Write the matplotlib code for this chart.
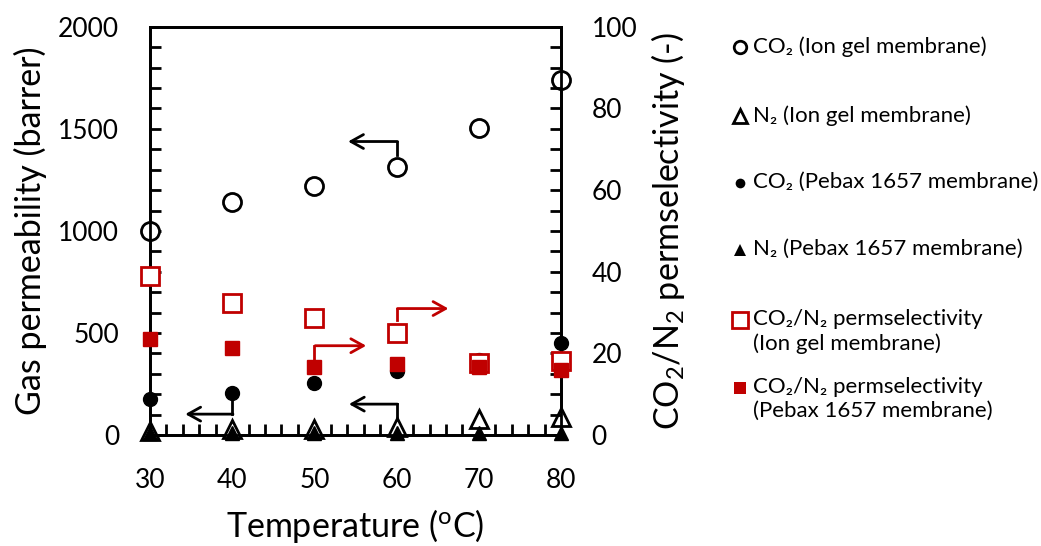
import matplotlib
matplotlib.use("Agg")
import matplotlib.pyplot as plt
from matplotlib.lines import Line2D

plt.rcParams['font.family'] = ['Lato', 'DejaVu Sans']
plt.rcParams['mathtext.fontset'] = 'custom'
plt.rcParams['mathtext.rm'] = 'Lato'
plt.rcParams['mathtext.it'] = 'Lato:italic'

# data
temp = [30, 40, 50, 60, 70, 80]
co2_ion = [1000, 1143, 1222, 1315, 1502, 1739]
n2_ion = [20, 30, 30, 40, 80, 90]
co2_pebax = [177, 207, 256, 315, 370, 453]
n2_pebax = [10, 10, 10, 10, 10, 10]
sel_ion = [38.9, 32.3, 28.8, 25.1, 17.7, 18.2]
sel_pebax = [23.6, 21.4, 16.7, 17.5, 16.7, 16.0]

red = '#C00000'

fig = plt.figure(figsize=(10.41, 5.46), dpi=100)
ax = fig.add_axes([0.144, 0.203, 0.395, 0.748])
ax2 = ax.twinx()

ax.plot(temp, co2_ion, 'o', ms=13, mfc='white', mec='black', mew=2, ls='none', clip_on=False, zorder=3)
ax.plot(temp, n2_ion, '^', ms=13, mfc='white', mec='black', mew=2, ls='none', clip_on=False, zorder=3)
ax.plot(temp, co2_pebax, 'o', ms=10, color='black', ls='none', clip_on=False, zorder=4)
ax.plot(temp, n2_pebax, '^', ms=10, color='black', ls='none', clip_on=False, zorder=4)
ax2.plot(temp, sel_ion, 's', ms=13, mfc='white', mec=red, mew=2, ls='none', clip_on=False, zorder=3)
ax2.plot(temp, sel_pebax, 's', ms=10, color=red, ls='none', clip_on=False, zorder=4)

ax.set_xlim(30, 80)
ax.set_ylim(0, 2000)
ax2.set_ylim(0, 100)
ax.set_xticks([30, 40, 50, 60, 70, 80])
ax.set_xticks(range(30, 81, 2), minor=True)
ax.set_yticks([0, 500, 1000, 1500, 2000])
ax.set_yticks(range(0, 2001, 100), minor=True)
ax2.set_yticks([0, 20, 40, 60, 80, 100])
ax2.set_yticks(range(0, 101, 5), minor=True)

for a in (ax, ax2):
    for s in a.spines.values():
        s.set_linewidth(2)
ax.tick_params(which='both', direction='in', width=2, length=8, labelsize=19)
ax.tick_params(axis='y', pad=22)
ax.tick_params(axis='x', pad=24)
ax2.tick_params(which='both', direction='in', width=2, length=8, labelsize=19, pad=22)

ax.set_xlabel('Temperature ($^{\\rm o}$C)', fontsize=24.5, labelpad=10)
ax.set_ylabel('Gas permeability (barrer)', fontsize=24.5, labelpad=8)
ax2.set_ylabel('CO$_2$/N$_2$ permselectivity (-)', fontsize=24.5, labelpad=8)

# arrows pointing to the axis each series belongs to
def arrow(a, x0, y0, y1, x1, col):
    a.plot([x0, x0], [y0, y1], color=col, lw=2, zorder=2)
    a.annotate('', xy=(x1, y1), xytext=(x0 + 0.1, y1),
               arrowprops=dict(arrowstyle='->,head_length=0.9,head_width=0.5', color=col, lw=2,
                               shrinkA=0, shrinkB=0))

arrow(ax, 60, 1374, 1438, 54.1, 'black')
arrow(ax, 40, 167, 103, 34.3, 'black')
arrow(ax, 60, 85, 152, 54.2, 'black')
arrow(ax2, 50, 17.5, 21.9, 56.3, red)
arrow(ax2, 60, 28.1, 31.0, 66.3, red)

# legend, laid out by hand like the original
labels = ['CO₂ (Ion gel membrane)', 'N₂ (Ion gel membrane)', 'CO₂ (Pebax 1657 membrane)',
          'N₂ (Pebax 1657 membrane)', 'CO₂/N₂ permselectivity\n(Ion gel membrane)',
          'CO₂/N₂ permselectivity\n(Pebax 1657 membrane)']
styles = [dict(marker='o', ms=9, mfc='white', mec='black', mew=2),
          dict(marker='^', ms=9.5, mfc='white', mec='black', mew=2),
          dict(marker='o', ms=7, mfc='black', mec='black', mew=0),
          dict(marker='^', ms=8, mfc='black', mec='black', mew=0),
          dict(marker='s', ms=11, mfc='white', mec=red, mew=2),
          dict(marker='s', ms=9, mfc=red, mec=red, mew=0)]
rows = [47, 116, 183, 250, 320, 388]
for lab, st, yp in zip(labels, styles, rows):
    yf = 1 - yp / 546
    fig.add_artist(Line2D([740 / 1041], [yf], ls='none', transform=fig.transFigure, **st))
    fig.text(753 / 1041, yf, lab, fontsize=16, va='top', ha='left', linespacing=1.25,
             transform=fig.transFigure).set_y(yf + 11 / 546)

fig.savefig('out.png', dpi=100)
